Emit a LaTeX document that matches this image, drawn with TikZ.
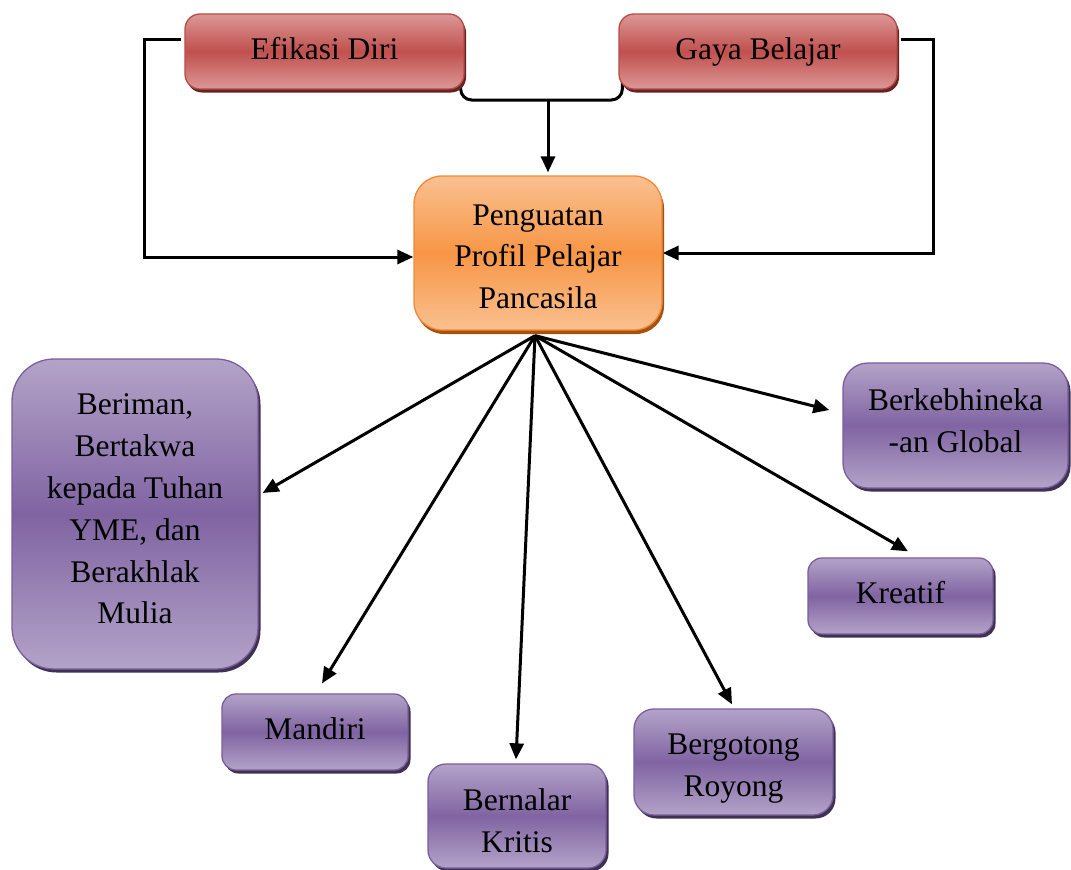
\documentclass[tikz,border=0pt]{standalone}
\usepackage{fontspec}
\setmainfont{Liberation Serif}
\newfontfamily\timesx{Liberation Serif}
\usetikzlibrary{arrows.meta,shadows,backgrounds}
\definecolor{redmid}{HTML}{C0504D}
\definecolor{redlight}{HTML}{DB9897}
\definecolor{redline}{HTML}{B94A47}
\definecolor{redshadow}{HTML}{632523}
\definecolor{orgmid}{HTML}{F79646}
\definecolor{orglight}{HTML}{FAC090}
\definecolor{orgline}{HTML}{F08A38}
\definecolor{orgshadow}{HTML}{A5520F}
\definecolor{purmid}{HTML}{8064A2}
\definecolor{purlight}{HTML}{B3A3C8}
\definecolor{purline}{HTML}{7A5E9E}
\definecolor{purshadow}{HTML}{3F3151}
\newcommand\boxlines[2]{\raisebox{#1}[\height][\depth]{\begin{tabular}{@{}c@{}}#2\end{tabular}}}
\begin{document}
\begin{tikzpicture}[x=1pt,y=-1pt,
  box/.style={rounded corners=#1, draw, line width=1.3pt, inner sep=0pt,
    font=\timesx\fontsize{31.5}{41.8}\selectfont},
  redbox/.style={box=15pt, draw=redline, top color=redlight, bottom color=redlight,
    middle color=redmid, drop shadow={shadow xshift=2pt,shadow yshift=-3.5pt,fill=redshadow,opacity=1}},
  orangebox/.style={box=28pt, draw=orgline, top color=orglight, bottom color=orglight,
    middle color=orgmid, drop shadow={shadow xshift=2pt,shadow yshift=-4pt,fill=orgshadow,opacity=1}},
  purplebox/.style={box=#1, draw=purline, top color=purlight, bottom color=purlight,
    middle color=purmid, drop shadow={shadow xshift=2.5pt,shadow yshift=-3.5pt,fill=purshadow,opacity=1}},
  conn/.style={line width=3pt},
  arr/.style={line width=3pt, -{Triangle[length=16pt,width=14pt]}}
]
\useasboundingbox (0,0) rectangle (1071,870);

\node[redbox, minimum width=279pt, minimum height=75pt] (ed) at (324.5,51.5) {\boxlines{0.5pt}{Efikasi Diri}};
\node[redbox, minimum width=278pt, minimum height=75pt] (gb) at (758,51.5) {\boxlines{0.5pt}{Gaya Belajar}};
\node[orangebox, minimum width=248pt, minimum height=154pt] (pp) at (538,253) {\boxlines{-5.5pt}{Penguatan\\Profil Pelajar\\Pancasila}};
\node[purplebox=42pt, minimum width=246pt, minimum height=310pt] (ber) at (135,514) {\boxlines{3pt}{Beriman,\\Bertakwa\\kepada Tuhan\\YME, dan\\Berakhlak\\Mulia}};
\node[purplebox=25pt, minimum width=225pt, minimum height=125pt] (bk) at (955.5,425.5) {\boxlines{2pt}{Berkebhineka\\-an Global}};
\node[purplebox=14pt, minimum width=185pt, minimum height=76pt] (kr) at (900.5,596) {\boxlines{0.6pt}{Kreatif}};
\node[purplebox=14pt, minimum width=186pt, minimum height=76pt] (man) at (315,732) {\boxlines{0.5pt}{Mandiri}};
\node[purplebox=18pt, minimum width=178pt, minimum height=104pt] (bn) at (517,816) {\boxlines{-7pt}{Bernalar\\Kritis}};
\node[purplebox=20pt, minimum width=199pt, minimum height=106pt] (bg) at (733.5,762) {\boxlines{-5pt}{Bergotong\\Royong}};

\coordinate (join) at (548,100);
\coordinate (hub) at ([xshift=-3pt,yshift=-5pt]pp.south);

\begin{scope}[on background layer]
\draw[conn, rounded corners=11pt] ([xshift=-4pt,yshift=8pt]ed.south east) |- (join) -| ([xshift=4pt,yshift=8pt]gb.south west);
\draw[arr] ([xshift=-3pt,yshift=12pt]ed.west) -- ++(-37,0) |- ([yshift=-4pt]pp.west);
\draw[arr] ([xshift=3pt,yshift=12pt]gb.east) -- ++(33,0) |- (pp.east);
\end{scope}
\draw[arr, shorten >=3pt] (join) -- (join |- pp.north);

\draw[arr] (hub) -- ([xshift=4pt,yshift=21pt]ber.east);
\draw[arr] (hub) -- ([xshift=7pt,yshift=10pt]man.north);
\draw[arr] (hub) -- ([xshift=-1pt,yshift=4pt]bn.north);
\draw[arr] (hub) -- ([xshift=-1.5pt,yshift=4pt]bg.north);
\draw[arr] (hub) -- ([xshift=7.5pt,yshift=6pt]kr.north);
\draw[arr] (hub) -- ([xshift=-13pt,yshift=15.5pt]bk.west);
\end{tikzpicture}
\end{document}
